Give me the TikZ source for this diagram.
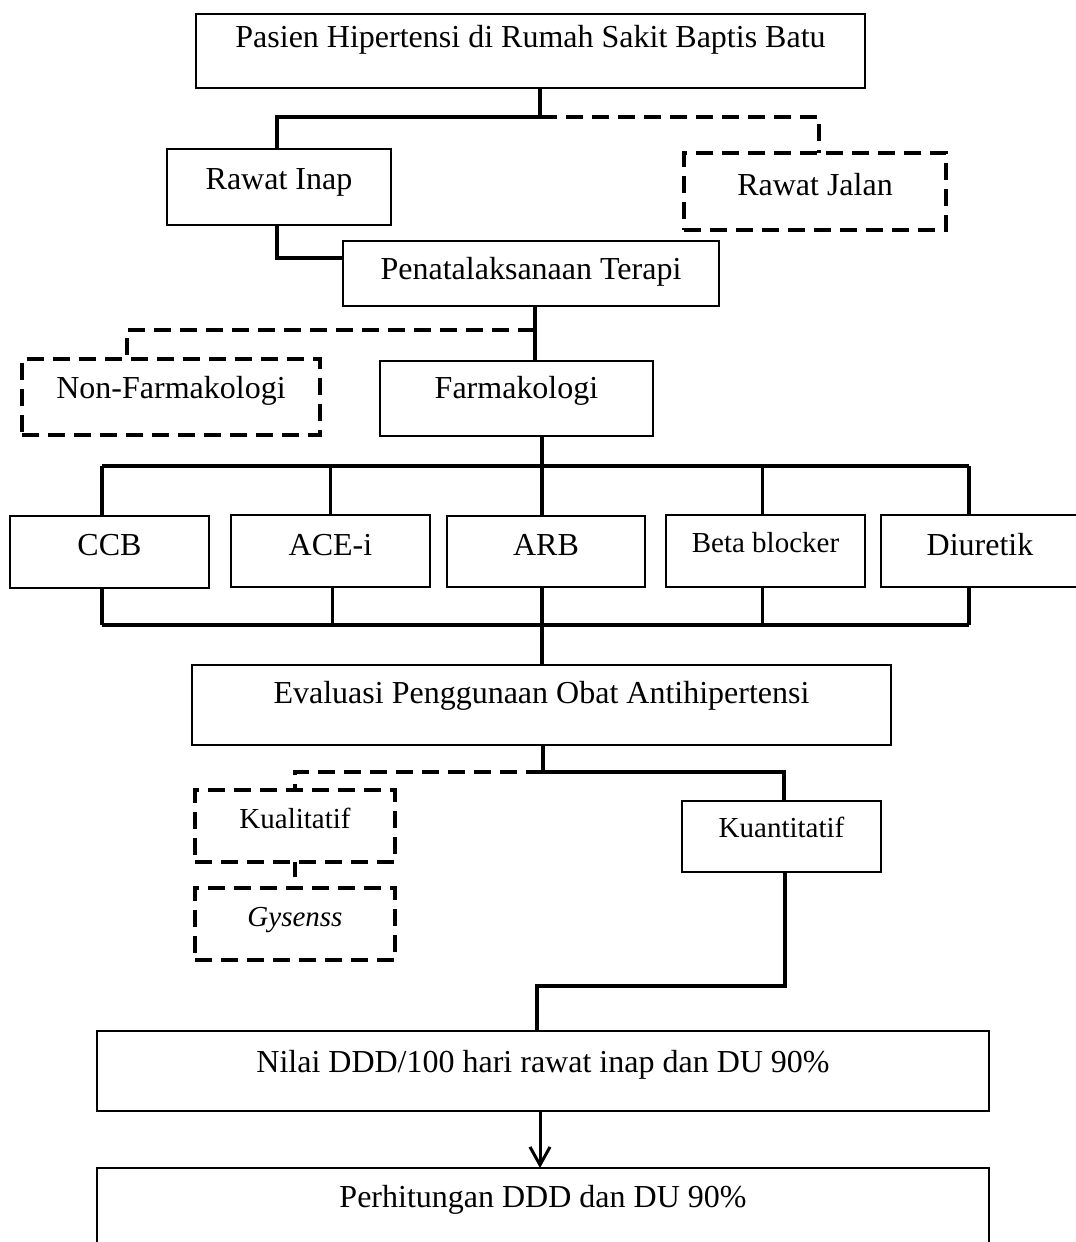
\documentclass[tikz,border=0pt]{standalone}
\usepackage{fontspec}
\setmainfont{Liberation Serif}
\usetikzlibrary{arrows.meta}
\newcommand{\bigf}{\fontsize{32}{38}\selectfont}
\newcommand{\smf}{\fontsize{29}{35}\selectfont}
\begin{document}
\begin{tikzpicture}[x=1pt,y=-1pt,
  bx/.style={draw, line width=2pt, inner sep=0pt, outer sep=0pt, anchor=north west, align=center, font=\bigf},
  dbx/.style={bx, line width=4pt, dash pattern=on 17pt off 9pt},
  conn/.style={line width=3.5pt},
  dconn/.style={line width=4pt, dash pattern=on 17pt off 9pt},
  barline/.style={line width=4.5pt},
  arr/.style={line width=3pt, -{Straight Barb[length=18pt,width=20pt,line width=3pt]}}
]
\useasboundingbox (0,0) rectangle (1076,1242);

% nodes
\node[bx, minimum width=669pt, text height=33pt, text depth=41pt] (top) at (196,14) {Pasien Hipertensi di Rumah Sakit Baptis Batu};
\node[bx, minimum width=224pt, text height=40pt, text depth=36pt] (rinap) at (167,149) {Rawat Inap};
\node[dbx, minimum width=262pt, text height=42pt, text depth=35pt] (rjalan) at (684,153) {Rawat Jalan};
\node[bx, minimum width=376pt, text height=38pt, text depth=27pt] (terapi) at (343,241) {Penatalaksanaan Terapi};
\node[dbx, minimum width=298pt, text height=39pt, text depth=37pt] (nonf) at (22,359) {Non-Farmakologi};
\node[bx, minimum width=273pt, text height=37pt, text depth=38pt] (farm) at (380,361) {Farmakologi};

\node[bx, minimum width=199pt, text height=39pt, text depth=33pt] (ccb) at (10,516) {CCB};
\node[bx, minimum width=199pt, text height=40pt, text depth=32pt] (ace) at (231,515) {ACE-i};
\node[bx, minimum width=198pt, text height=39pt, text depth=32pt] (arb) at (447,516) {ARB};
\node[bx, font=\smf, minimum width=199pt, text height=37pt, text depth=35pt] (beta) at (666,515) {Beta blocker};
\node[bx, minimum width=198pt, text height=40pt, text depth=32pt] (diur) at (881,515) {Diuretik};

\node[bx, minimum width=699pt, text height=38pt, text depth=42pt] (eval) at (192,665) {Evaluasi Penggunaan Obat Antihipertensi};

\node[dbx, font=\smf, minimum width=200pt, text height=38pt, text depth=34pt] (kual) at (195,790) {Kualitatif};
\node[dbx, font=\smf\itshape, minimum width=200pt, text height=38pt, text depth=34pt] (gys) at (195,888) {Gysenss};
\node[bx, font=\smf, minimum width=199pt, text height=36pt, text depth=35pt] (kuan) at (682,801) {Kuantitatif};

\node[bx, minimum width=892pt, text height=41pt, text depth=39pt] (nilai) at (97,1031) {Nilai DDD/100 hari rawat inap dan DU 90\%};
\node[bx, minimum width=892pt, text height=39pt, text depth=73pt] (perh) at (97,1168) {Perhitungan DDD dan DU 90\%};

% coordinates
\coordinate (j1) at (540,117);
\coordinate (j2) at (535,330);
\coordinate (t1l) at (102,466);
\coordinate (t1r) at (969,466);
\coordinate (sp1) at (542,466);
\coordinate (t2l) at (102,625);
\coordinate (t2r) at (969,625);
\coordinate (sp2) at (542,625);
\coordinate (j3) at (543,772);
\coordinate (gstub) at (295,877);
\coordinate (j4) at (785,986);
\coordinate (j5) at (537,986);

% top split
\draw[conn] (j1 |- top.south) -- (j1) -| ([xshift=-2pt]rinap.north);
\draw[dconn] (j1) -| ([xshift=4pt]rjalan.north);
\draw[conn] ([xshift=-2pt]rinap.south) |- ([yshift=15.5pt]terapi.west);

% therapy split
\draw[conn] (j2 |- terapi.south) -- (j2 |- farm.north);
\draw[dconn] (j2) -| ([xshift=-44pt]nonf.north);

% drug bars
\draw[conn] (farm.south -| sp1) -- (sp1);
\draw[barline] (t1l) -- (t1r);
\draw[conn] (t1l) -- (t1l |- ccb.north);
\draw[conn] (ace.north |- t1l) -- (ace.north);
\draw[conn] (sp1) -- (sp1 |- arb.north);
\draw[conn] ([xshift=-3pt]beta.north |- t1l) -- ([xshift=-3pt]beta.north);
\draw[conn] (t1r) -- (t1r |- diur.north);

\draw[conn] (t2l |- ccb.south) -- (t2l);
\draw[conn] ([xshift=2pt]ace.south) -- ([xshift=2pt]ace.south |- t2l);
\draw[conn] (sp2 |- arb.south) -- (sp2);
\draw[conn] ([xshift=-3pt]beta.south) -- ([xshift=-3pt]beta.south |- t2l);
\draw[conn] (t2r |- diur.south) -- (t2r);
\draw[barline] (t2l) -- (t2r);
\draw[conn] (sp2) -- (sp2 |- eval.north);

% evaluation split
\draw[conn] (j3 |- eval.south) -- (j3);
\draw[dconn] (j3) -| (kual.north);
\draw[conn] (j3) -| ([xshift=2.5pt]kuan.north);
\draw[dconn] (kual.south) -- (gstub);

% quantitative path
\draw[conn] ([xshift=3.5pt]kuan.south) -- (j4) -- (j5) -- (j5 |- nilai.north);
\draw[arr] ([xshift=-3pt]nilai.south) -- ([xshift=-3pt]perh.north);
\end{tikzpicture}
\end{document}
